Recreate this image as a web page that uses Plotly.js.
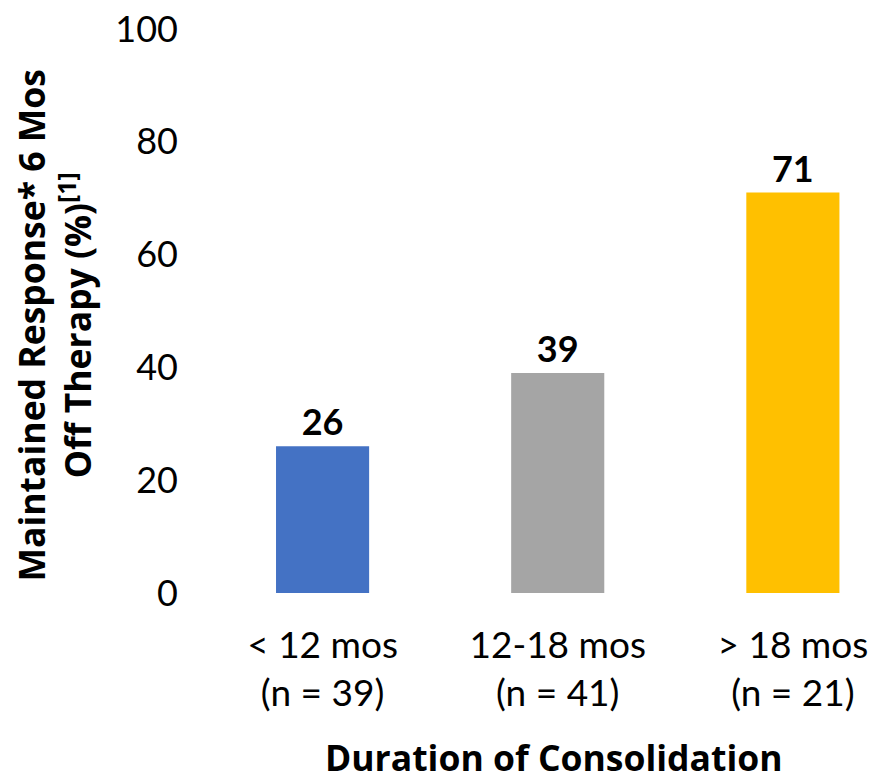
<!DOCTYPE html>
<html>
<head>
<meta charset="utf-8">
<script src="https://cdn.plot.ly/plotly-3.0.1.min.js"></script>
<style>
  html, body { margin: 0; padding: 0; background: #ffffff; }
  #chart { width: 874px; height: 774px; }
</style>
</head>
<body>
<div id="chart"></div>
<script>
// Consolidation duration groups and response rates
const groups = ['< 12 mos', '12-18 mos', '> 18 mos'];
const sampleSizes = [39, 41, 21];
const responsePct = [26, 39, 71];
const barColors = ['#4472C4', '#A5A5A5', '#FFC000'];
const yTicks = [0, 20, 40, 60, 80, 100];

const esc = s => s.replace(/</g, '&lt;').replace(/>/g, '&gt;');
const tickText = groups.map((g, i) => esc(g) + '<br>(n = ' + sampleSizes[i] + ')');

const baseFont = 'Lato, "Open Sans", sans-serif';
const titleFont = '"Open Sans", Lato, sans-serif';

const trace = {
  type: 'bar',
  x: groups,
  y: responsePct,
  marker: { color: barColors, line: { width: 0 } },
  text: responsePct.map(String),
  textposition: 'outside',
  cliponaxis: false,
  textfont: { family: baseFont, size: 36, color: '#000000', weight: 'bold' },
  hoverinfo: 'none'
};

const layout = {
  width: 874,
  height: 774,
  margin: { l: 205, r: 0, t: 29, b: 181, pad: 0 },
  paper_bgcolor: '#ffffff',
  plot_bgcolor: '#ffffff',
  showlegend: false,
  bargap: 0.604,
  font: { family: baseFont, color: '#000000' },
  xaxis: {
    type: 'category',
    range: [-0.5, 2.345],
    tickmode: 'array',
    tickvals: groups,
    ticktext: tickText,
    tickfont: { family: baseFont, size: 37, color: '#000000' },
    ticklabelstandoff: 27,
    showgrid: false,
    zeroline: false,
    showline: false,
    ticks: ''
  },
  yaxis: {
    range: [0, 100],
    tickmode: 'array',
    tickvals: yTicks,
    ticktext: yTicks.map(String),
    tickfont: { family: baseFont, size: 36, color: '#000000' },
    ticklabelstandoff: 26,
    showgrid: false,
    zeroline: false,
    showline: false,
    ticks: ''
  },
  annotations: [
    {
      text: 'Maintained Response* 6 Mos<br>Off Therapy (%)<sup>[1]</sup>',
      xref: 'paper', yref: 'paper',
      x: -0.226, y: 0.474,
      xanchor: 'center', yanchor: 'middle',
      textangle: -90,
      showarrow: false,
      font: { family: titleFont, size: 35.5, color: '#000000', weight: 'bold' }
    },
    {
      text: 'Duration of Consolidation',
      xref: 'paper', yref: 'paper',
      x: 0.522, y: -0.291,
      xanchor: 'center', yanchor: 'middle',
      showarrow: false,
      font: { family: titleFont, size: 35.5, color: '#000000', weight: 'bold' }
    }
  ]
};

Plotly.newPlot('chart', [trace], layout, { displayModeBar: false, staticPlot: true });
</script>
</body>
</html>
